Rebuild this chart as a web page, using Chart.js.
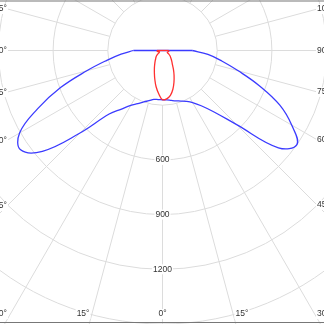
<!DOCTYPE html>
<html>
<head>
<meta charset="utf-8">
<script src="https://cdn.jsdelivr.net/npm/chart.js@4.4.1/dist/chart.umd.min.js"></script>
<style>
html, body { margin: 0; padding: 0; background: #fff; overflow: hidden; }
#wrap { width: 324px; height: 324px; }
</style>
</head>
<body>
<div id="wrap"><canvas id="polar_chart" width="324" height="324"></canvas></div>
<script>
// gamma angles (deg) of the measured points, same for every C-plane
const angles = [0, 5, 10, 15, 20, 25, 30, 35, 40, 45, 50, 55, 60, 65, 70, 75, 80, 85, 90];

// intensities (cd)
const blueRight = [270, 272, 278, 286, 295, 308, 330, 370, 440, 575, 830, 900, 818, 710, 565, 430, 330, 250, 163];
const blueLeft  = [270, 270, 272, 285, 300, 322, 348, 392, 455, 640, 860, 950, 905, 755, 595, 430, 310, 228, 160];
const redRight  = [270, 266, 250, 220, 184, 150, 120, 95, 80, 68, 58, 50, 40, 30, 28, 30, 33, 35, 34];
const redLeft   = [270, 238, 202, 163, 130, 105, 85, 70, 58, 50, 40, 28, 20, 18, 20, 24, 28, 30, 30];

// grid
const gridValues = [300, 600, 900, 1200, 1500, 1800];
const radialTickLabels = ['600', '900', '1200'];
const spokeAngles = [0, 15, 30, 45, 60, 75, 90, 105, 120, 135, 150, 165, 180];
const angleTickLabels = [0, 15, 30, 45, 60, 75, 90, 105];

const BLUE = '#3b3bff';
const RED = '#ff3030';
const GRID = '#dcdcdc';
const TEXT = '#333';
const FONT = '8.5px "Liberation Sans", Arial, sans-serif';

// pixels per candela, and where the pole sits on the canvas
const k = 54.7 / 300;
const poleX = 162.5, poleY = 50.5;

function toXY(angle, value, side) {
    const a = angle * Math.PI / 180;
    return {x: side * value * Math.sin(a), y: -value * Math.cos(a)};
}

// closed outline: left half from 90 down to 0, right half from 0 up to 90
function outline(left, right) {
    const pts = [];
    for (let i = angles.length - 1; i >= 0; i--) pts.push(toXY(angles[i], left[i], -1));
    for (let i = 1; i < angles.length; i++) pts.push(toXY(angles[i], right[i], 1));
    return pts;
}

// straight closing line across the top through the pole
function topLine(left, right) {
    const n = angles.length - 1;
    return [toXY(angles[n], right[n], 1), toXY(0, 0, 1), toXY(angles[n], left[n], -1)];
}

const polarGrid = {
    id: 'polarGrid',
    beforeDatasetsDraw(chart) {
        const ctx = chart.ctx;
        const xs = chart.scales.x, ys = chart.scales.y;
        const cx = xs.getPixelForValue(0), cy = ys.getPixelForValue(0);
        const px = v => xs.getPixelForValue(v) - cx;
        ctx.save();
        ctx.strokeStyle = GRID;
        ctx.lineWidth = 1;
        for (const v of gridValues) {
            ctx.beginPath();
            ctx.arc(cx, cy, px(v), 0, Math.PI * 2);
            ctx.stroke();
        }
        const r0 = px(gridValues[0]), r1 = px(2400);
        for (const a of spokeAngles) {
            for (const s of [-1, 1]) {
                const t = a * Math.PI / 180;
                const dx = s * Math.sin(t), dy = Math.cos(t);
                ctx.beginPath();
                ctx.moveTo(cx + dx * r0, cy + dy * r0);
                ctx.lineTo(cx + dx * r1, cy + dy * r1);
                ctx.stroke();
            }
        }
        ctx.restore();
    },
    afterDatasetsDraw(chart) {
        const ctx = chart.ctx;
        const xs = chart.scales.x, ys = chart.scales.y;
        const cx = xs.getPixelForValue(0), cy = ys.getPixelForValue(0);
        const W = chart.width, H = chart.height;
        ctx.save();
        ctx.font = FONT;

        function label(text, x, y, align) {
            ctx.textAlign = align;
            ctx.textBaseline = 'middle';
            const w = ctx.measureText(text).width;
            let left = x - w / 2;
            if (align === 'right') left = x - w;
            if (align === 'left') left = x;
            ctx.fillStyle = '#fff';
            ctx.fillRect(left - 1, y - 5, w + 2, 10);
            ctx.fillStyle = TEXT;
            ctx.fillText(text, x, y);
        }

        // intensity values on the 0 degree line
        for (const t of radialTickLabels) {
            label(t, cx, ys.getPixelForValue(-Number(t)), 'center');
        }

        // angle labels where the spokes leave the frame
        const xl = 7, xr = W - 7, yb = H - 1, yMax = H - 10;
        for (const a of angleTickLabels) {
            const sides = a === 0 ? [1] : [-1, 1];
            for (const s of sides) {
                const t = a * Math.PI / 180;
                const dx = s * Math.sin(t), dy = Math.cos(t);
                const text = a + '°';
                if (a === 0) { label(text, cx, yMax, 'center'); continue; }
                const tSide = ((s < 0 ? xl : xr) - cx) / dx;
                const tBot = dy > 0 ? (yb - cy) / dy : Infinity;
                const align = s < 0 ? 'right' : 'left';
                if (tBot < tSide) {
                    label(text, cx + dx * tBot, yMax, align);
                } else {
                    const y = Math.min(Math.max(cy + dy * tSide, 9), yMax);
                    label(text, s < 0 ? xl : xr, y, align);
                }
            }
        }

        // frame
        ctx.strokeStyle = '#777';
        ctx.lineWidth = 1.2;
        ctx.beginPath();
        ctx.moveTo(0, 1); ctx.lineTo(W, 1);
        ctx.moveTo(0, H - 1.5); ctx.lineTo(W, H - 1.5);
        ctx.stroke();
        ctx.restore();
    }
};

const line = (data, color, tension, order) => ({
    data, borderColor: color, backgroundColor: color, borderWidth: 1.3,
    showLine: true, pointRadius: 0, tension, order, fill: false
});

const ctx = document.getElementById('polar_chart').getContext('2d');
new Chart(ctx, {
    type: 'scatter',
    data: {
        datasets: [
            line(outline(redLeft, redRight), RED, 0.4, 0),
            line(topLine(redLeft, redRight), RED, 0, 1),
            line(outline(blueLeft, blueRight), BLUE, 0.4, 2),
            line(topLine(blueLeft, blueRight), BLUE, 0, 3)
        ]
    },
    options: {
        responsive: false,
        devicePixelRatio: 1,
        animation: false,
        layout: {padding: 0},
        plugins: {legend: {display: false}, tooltip: {enabled: false}},
        scales: {
            x: {type: 'linear', display: false, min: -poleX / k, max: (324 - poleX) / k},
            y: {type: 'linear', display: false, min: -(324 - poleY) / k, max: poleY / k}
        }
    },
    plugins: [polarGrid]
});
</script>
</body>
</html>
